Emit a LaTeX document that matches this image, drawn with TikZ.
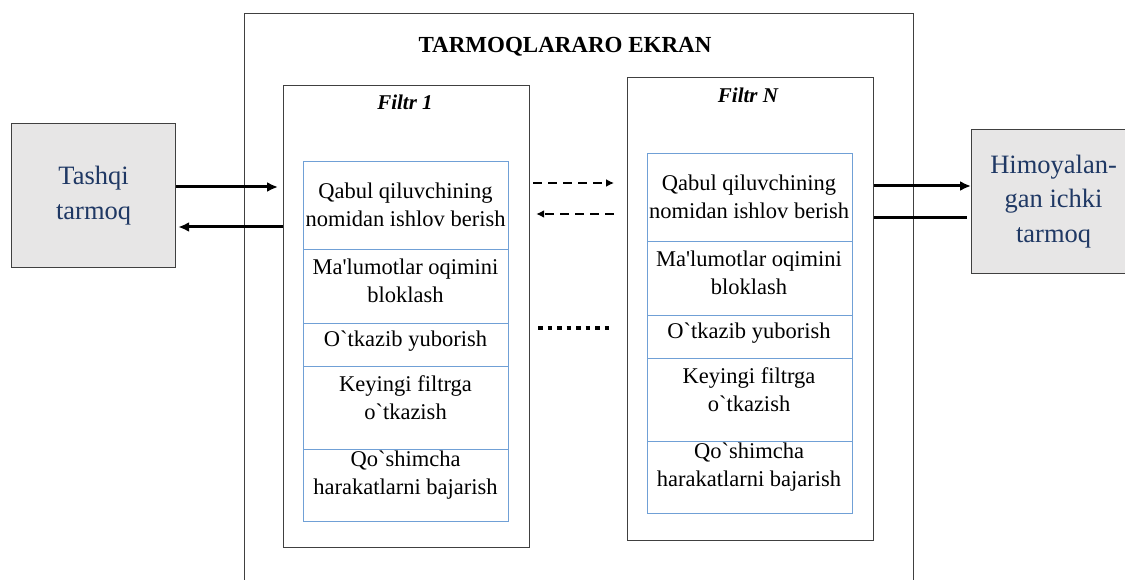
\documentclass[tikz,border=0pt]{standalone}
\usepackage{fontspec}
\setmainfont{Liberation Serif}
\usetikzlibrary{arrows.meta, calc}
\definecolor{boxgray}{RGB}{231,230,230}
\definecolor{netblue}{RGB}{31,56,100}
\definecolor{cellblue}{RGB}{112,160,214}
\definecolor{edge}{RGB}{64,64,64}

\begin{document}
\begin{tikzpicture}[
  x=1pt, y=-1pt,
  font=\fontsize{22.5}{28}\selectfont,
  wall/.style={draw=edge, line width=1.2pt, anchor=north west, inner sep=0pt},
  net/.style={wall, fill=boxgray, text=netblue, align=center,
              font=\fontsize{26.5}{34.5}\selectfont},
  title/.style={font=\fontsize{23}{28}\selectfont\bfseries, anchor=base},
  ftitle/.style={font=\fontsize{21}{26}\selectfont\bfseries\itshape, anchor=base},
  cell/.style={align=center, inner sep=0pt},
  grid/.style={draw=cellblue, line width=0.9pt},
  flow/.style={-{Latex[length=11pt, width=10pt]}, line width=3pt},
  plain/.style={line width=3pt},
  dflow/.style={-{Latex[length=8pt, width=8pt]}, line width=2pt, dash pattern=on 9pt off 6pt},
  dotline/.style={line width=4.5pt, dash pattern=on 4.5pt off 5pt},
]
\useasboundingbox (0,0) rectangle (1125,580);
% firewall frame
\node[wall, minimum width=669pt, minimum height=620pt] (ekran) at (244,13) {};
\node[title] (ekrantitle) at (565,53) {TARMOQLARARO EKRAN};
% filters
\node[wall, minimum width=246pt, minimum height=462pt] (filtr1) at (283,85) {};
\node[ftitle] (filtr1title) at (405,110) {Filtr 1};
\node[wall, minimum width=246pt, minimum height=463pt] (filtrN) at (627,77) {};
\node[ftitle] (filtrNtitle) at (748,103) {Filtr N};
% rule tables
\foreach \x/\dy in {303/0, 647/8} {
  \draw[grid] (\x,161-\dy) rectangle ++(205,360);
  \foreach \y in {249,323,366,449} \draw[grid] (\x,\y-\dy) -- ++(205,0);
}
\foreach \y/\txt [count=\i] in {
    205/{Qabul qiluvchining\\nomidan ishlov berish},
    281/{Ma\textquotesingle lumotlar oqimini\\bloklash},
    341/{O\textasciigrave tkazib yuborish},
    398/{Keyingi filtrga\\o\textasciigrave tkazish},
    475/{Qo\textasciigrave shimcha\\harakatlarni bajarish}} {
  \node[cell] (f1c\i) at (405.5,\y) {\txt};
  \node[cell] (fNc\i) at (749,\y-8) {\txt};
}
% networks
\node[net, minimum width=164pt, minimum height=144pt] (tashqi) at (11,123) {Tashqi\\tarmoq};
\node[net, minimum width=164pt, minimum height=144pt] (himoya) at (971,129) {Himoyalan-\\gan ichki\\tarmoq};
% links
\draw[flow, shorten >=5pt] (tashqi.east |- 0,187) -- (filtr1.west |- 0,187);
\draw[flow, shorten >=2pt] (filtr1.west |- 0,227) -- (tashqi.east |- 0,227);
\draw[dflow, shorten <=3pt, shorten >=13pt] (filtr1.east |- 0,183) -- (filtrN.west |- 0,183);
\draw[dflow, shorten <=13pt, shorten >=6pt] (filtrN.west |- 0,214) -- (filtr1.east |- 0,214);
\draw[dotline, shorten <=8pt, shorten >=15pt] (filtr1.east |- 0,328) -- (filtrN.west |- 0,328);
\draw[flow] (filtrN.east |- 0,186) -- (himoya.west |- 0,186);
\draw[plain, shorten >=4pt] (filtrN.east |- 0,218) -- (himoya.west |- 0,218);
\end{tikzpicture}
\end{document}
